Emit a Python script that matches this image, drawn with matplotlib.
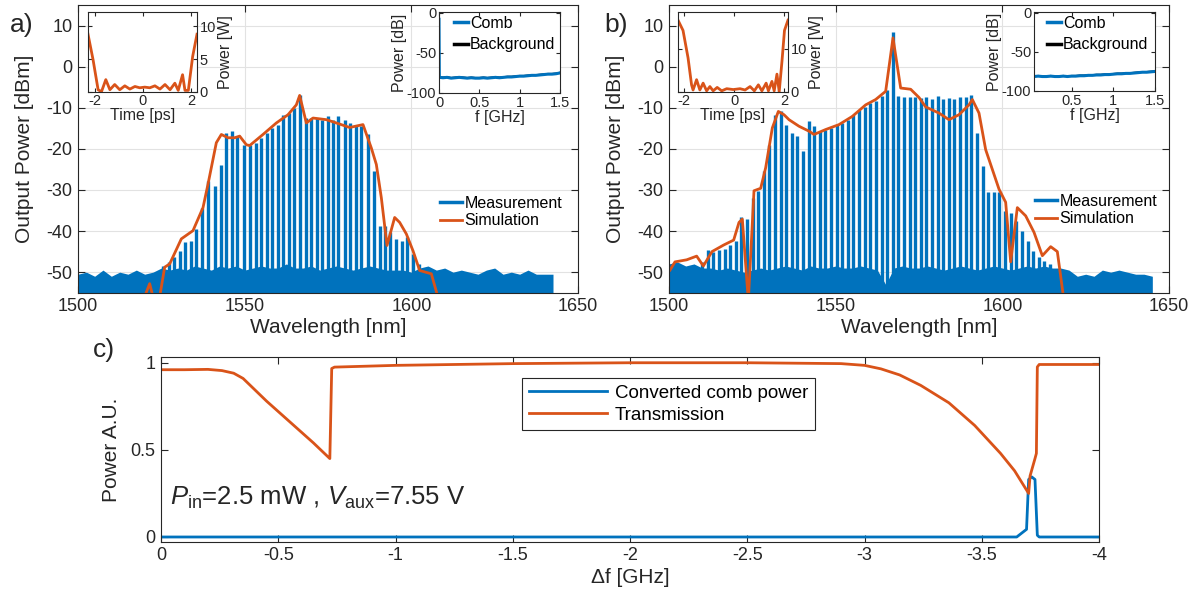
import matplotlib
matplotlib.use("Agg")
import matplotlib.pyplot as plt

plt.rcParams['font.family'] = ['Liberation Sans', 'DejaVu Sans']
plt.rcParams['axes.unicode_minus'] = False
plt.rcParams['mathtext.fontset'] = 'custom'
plt.rcParams['mathtext.rm'] = 'Liberation Sans'
plt.rcParams['mathtext.it'] = 'Liberation Sans:italic'

BLUE = '#0072BD'
ORANGE = '#D95319'
AX = '#262626'
GRID = '#e2e2e2'

# ---------------- panel a: measured comb lines (peak power, dBm) ----------------
comb_wl_a = [1525.5, 1527.2, 1528.7, 1530.5, 1532.2, 1533.8, 1535.5, 1537.3, 1539.0, 1541.0,
             1542.8, 1544.5, 1546.2, 1547.8, 1549.8, 1551.5, 1553.3, 1555.0, 1556.7, 1558.3,
             1560.0, 1561.5, 1563.3, 1564.8, 1566.5, 1568.3, 1570.0, 1571.7, 1573.3, 1575.0,
             1576.5, 1578.0, 1580.0, 1581.5, 1583.3, 1585.0, 1587.0, 1588.7, 1590.5, 1592.1,
             1593.7, 1595.5, 1597.2, 1598.8, 1600.5, 1602.3]
comb_pk_a = [-48.4, -47.5, -46.4, -44.8, -42.7, -42.3, -39.5, -34.3, -27.8, -29.0,
             -24.0, -16.1, -15.7, -16.9, -19.0, -19.0, -18.5, -17.3, -16.1, -14.9,
             -14.1, -11.7, -11.3, -10.1, -7.0, -12.5, -12.5, -12.5, -12.9, -12.1,
             -12.9, -12.1, -12.9, -13.7, -14.1, -14.5, -16.5, -25.4, -38.7, -38.7,
             -40.3, -41.9, -42.3, -41.5, -45.6, -48.0]

# noise floor of the measurement, read every 2.5 nm
floor_wl_a = [1500.0, 1502.5, 1505.0, 1507.5, 1510.0, 1512.5, 1515.0, 1517.5, 1520.0, 1522.5,
              1525.0, 1527.5, 1530.0, 1532.5, 1535.0, 1537.5, 1540.0, 1542.5, 1545.0, 1547.5,
              1550.0, 1552.5, 1555.0, 1557.5, 1560.0, 1562.5, 1565.0, 1567.5, 1570.0, 1572.5,
              1575.0, 1577.5, 1580.0, 1582.5, 1585.0, 1587.5, 1590.0, 1592.5, 1595.0, 1597.5,
              1600.0, 1602.5, 1605.0, 1607.5, 1610.0, 1612.5, 1615.0, 1617.5, 1620.0, 1622.5,
              1625.0, 1627.5, 1630.0, 1632.5, 1635.0, 1637.5, 1640.0, 1642.5]
floor_a = [-50.5, -50.0, -51.0, -49.5, -51.0, -50.0, -50.5, -49.5, -50.5, -50.0,
           -49.0, -49.5, -49.0, -49.5, -48.5, -49.0, -49.5, -48.5, -49.0, -48.5,
           -49.5, -49.0, -48.5, -49.0, -49.0, -48.0, -49.0, -49.0, -48.5, -49.5,
           -49.0, -48.5, -49.0, -49.5, -49.0, -48.5, -49.0, -49.5, -49.5, -49.5,
           -50.0, -49.0, -48.5, -49.5, -49.0, -50.0, -49.5, -50.0, -50.5, -49.5,
           -49.0, -50.5, -50.0, -50.5, -49.5, -50.5, -50.5, -50.5]

sim_wl_a = [1519.5, 1521.5, 1522.8, 1524.3, 1526.0, 1527.5, 1531.0, 1534.5, 1537.5, 1539.0,
            1541.5, 1543.0, 1545.0, 1547.0, 1548.5, 1550.5, 1551.5, 1555.5, 1559.5, 1563.0,
            1565.5, 1566.5, 1568.5, 1570.5, 1574.5, 1577.5, 1581.5, 1585.5, 1588.0, 1589.5,
            1591.0, 1592.7, 1595.0, 1596.5, 1598.5, 1600.5, 1602.5, 1606.0, 1608.3]
sim_a = [-57.0, -52.8, -57.0, -57.0, -48.8, -48.0, -41.9, -39.9, -34.3, -28.6,
         -18.5, -16.5, -17.3, -17.3, -16.9, -19.0, -19.2, -16.5, -13.7, -11.7,
         -9.3, -7.0, -13.7, -12.5, -12.9, -13.7, -14.8, -14.1, -19.8, -23.8,
         -31.9, -43.5, -36.7, -37.9, -40.7, -44.8, -49.6, -50.4, -57.0]

# ---------------- panel b ----------------
comb_wl_b = [1510.0, 1511.7, 1513.3, 1515.0, 1516.7, 1518.4, 1520.1, 1521.7, 1523.4, 1525.1,
             1526.8, 1528.5, 1530.1, 1531.8, 1533.5, 1535.2, 1536.9, 1538.5, 1540.2, 1541.9,
             1543.6, 1545.3, 1546.9, 1548.6, 1550.3, 1552.0, 1553.7, 1555.3, 1557.0, 1558.7,
             1560.4, 1562.1, 1563.8, 1565.4, 1567.1, 1568.8, 1570.5, 1572.2, 1573.9, 1575.5,
             1577.2, 1578.9, 1580.6, 1582.3, 1584.0, 1585.6, 1587.3, 1589.0, 1590.7, 1592.4,
             1594.1, 1595.8, 1597.4, 1599.1, 1600.8, 1602.5, 1604.2, 1605.9, 1607.6, 1609.2,
             1610.9, 1612.6, 1614.3]
comb_pk_b = [-47.5, -44.6, -45.0, -44.6, -44.3, -43.5, -42.5, -36.7, -37.1, -31.9,
             -30.2, -25.4, -19.0, -11.7, -10.9, -14.1, -16.1, -16.9, -20.6, -13.3,
             -14.5, -15.7, -15.3, -14.9, -14.1, -13.7, -12.9, -11.7, -10.5, -9.7,
             -8.9, -8.3, -7.1, -5.8, 8.4, -7.1, -7.4, -7.5, -7.3, -7.6,
             -7.4, -7.8, -7.2, -7.8, -7.6, -7.9, -7.3, -7.5, -7.0, -16.1,
             -24.2, -30.6, -30.6, -30.6, -35.1, -35.5, -37.5, -39.9, -42.3, -44.8,
             -46.4, -47.2, -48.0]

floor_wl_b = floor_wl_a + [1645.0]
floor_b = [-48.0, -47.5, -48.5, -48.0, -49.0, -49.0, -49.5, -49.0, -49.5, -50.0,
           -49.5, -49.0, -49.5, -49.0, -48.5, -49.0, -49.5, -48.5, -49.0, -49.0,
           -48.5, -49.0, -49.0, -48.5, -49.0, -49.5, -53.0, -49.0, -48.5, -49.0,
           -49.0, -48.5, -49.0, -49.5, -49.0, -48.5, -49.0, -49.5, -49.0, -48.5,
           -49.0, -49.5, -49.0, -48.5, -49.0, -48.5, -49.0, -49.0, -49.5, -51.0,
           -50.5, -51.0, -49.5, -50.0, -49.5, -50.0, -50.5, -50.5, -51.0]

sim_wl_b = [1500.3, 1501.8, 1505.3, 1508.3, 1510.3, 1512.9, 1516.4, 1519.4, 1521.0, 1522.0,
            1523.8, 1525.5, 1527.5, 1529.0, 1531.0, 1532.8, 1534.5, 1536.0, 1539.0, 1542.0,
            1543.5, 1547.0, 1551.0, 1555.0, 1559.0, 1562.0, 1565.0, 1567.2, 1569.5, 1572.5,
            1575.0, 1577.0, 1581.0, 1584.0, 1587.0, 1590.0, 1591.0, 1593.0, 1595.0, 1597.0,
            1599.0, 1601.0, 1602.5, 1604.5, 1607.0, 1609.5, 1612.0, 1614.5, 1616.5, 1618.5]
sim_b = [-49.5, -47.5, -47.0, -46.1, -48.5, -45.0, -43.4, -42.2, -37.9, -37.1,
         -57.0, -30.2, -29.6, -24.6, -14.9, -10.9, -11.7, -12.9, -14.5, -15.7,
         -16.5, -15.3, -14.1, -12.1, -9.3, -8.0, -6.0, 7.0, -5.2, -5.5,
         -7.5, -9.8, -11.3, -12.9, -11.7, -9.3, -8.0, -11.3, -20.2, -25.0,
         -29.8, -33.0, -47.5, -34.3, -36.3, -40.3, -46.0, -43.8, -45.0, -57.0]

# ---------------- insets: pulse in time ----------------
t_a = [-2.28, -2.07, -1.86, -1.72, -1.54, -1.37, -1.17, -0.96, -0.75, -0.54, -0.33, -0.13, 0.08,
       0.29, 0.5, 0.71, 0.92, 1.13, 1.33, 1.47, 1.65, 1.75, 1.89, 2.07, 2.25]
pw_a = [8.8, 4.9, 0.3, 0.0, 1.85, 0.3, 1.1, 0.3, 0.9, 0.4, 0.8, 0.6, 0.7,
        0.6, 0.9, 0.4, 1.1, 0.3, 1.3, 0.2, 2.6, 0.2, 0.2, 5.4, 8.8]
t_b = [-2.23, -2.03, -1.83, -1.69, -1.63, -1.49, -1.36, -1.23, -1.09, -0.96, -0.83, -0.67, -0.49,
       -0.29, -0.03, 0.24, 0.44, 0.64, 0.81, 0.97, 1.11, 1.28, 1.37, 1.51, 1.6, 1.71, 1.8, 1.91,
       2.01, 2.15]
pw_b = [16.7, 14.3, 7.9, 1.6, 0.4, 2.8, 0.4, 2.0, 0.2, 1.2, 0.2, 1.0, 0.2,
        0.7, 0.5, 0.7, 0.4, 1.2, 0.2, 1.6, 0.2, 2.0, 0.2, 2.4, 0.2, 4.1, 0.0, 7.1,
        14.3, 16.7]

# ---------------- insets: RF spectrum ----------------
rf_f = [0.0, 0.004, 0.05, 0.1, 0.15, 0.2, 0.25, 0.3, 0.35, 0.4, 0.45, 0.5, 0.55, 0.6, 0.65, 0.7,
        0.75, 0.8, 0.85, 0.9, 0.95, 1.0, 1.05, 1.1, 1.15, 1.2, 1.25, 1.3, 1.35, 1.4, 1.45, 1.5]
rf_comb_a = [-8, -80.5, -81, -80.5, -81.5, -81, -80.5, -81, -81.5, -81, -81.5, -81.5, -81, -81.5,
             -81, -80.5, -81, -80.5, -80, -80, -79.5, -79, -79, -78.5, -78, -78, -77.5, -77, -76.5,
             -76.5, -76, -75]
rf_bg_a = [-80, -80, -80.5, -80, -81, -80.5, -80, -80.5, -81, -80.5, -81, -81, -80.5, -81,
           -80.5, -80, -80.5, -80, -79.5, -79.5, -79, -78.5, -78.5, -78, -77.5, -77.5, -77, -76.5,
           -76, -76, -75.5, -74.5]
rf_comb_b = [-8, -81, -81.5, -81, -81.5, -81.5, -81, -81.5, -81.5, -81, -81.5, -81, -81, -80.5,
             -80.5, -80, -80, -79.5, -79.5, -79, -79, -78.5, -78, -78, -77.5, -77.5, -77, -76.5,
             -76, -76, -75.5, -75]
rf_bg_b = [-80.5, -80.5, -81, -80.5, -81, -81, -80.5, -81, -81, -80.5, -81, -80.5, -80.5, -80,
           -80, -79.5, -79.5, -79, -79, -78.5, -78.5, -78, -77.5, -77.5, -77, -77, -76.5, -76,
           -75.5, -75.5, -75, -74.5]

# ---------------- panel c ----------------
df_tr = [0, -0.1, -0.2, -0.26, -0.31, -0.35, -0.45, -0.55, -0.65, -0.72, -0.728, -0.74, -1.0, -1.5,
         -2.0, -2.5, -2.9, -3.0, -3.07, -3.15, -3.24, -3.36, -3.47, -3.58, -3.64, -3.70, -3.706,
         -3.727, -3.733, -3.737, -3.745, -4.0]
trans = [0.96, 0.96, 0.962, 0.955, 0.94, 0.91, 0.78, 0.66, 0.54, 0.45, 0.967, 0.975, 0.985, 0.995,
         1.0, 1.0, 0.995, 0.985, 0.965, 0.93, 0.87, 0.77, 0.64, 0.48, 0.38, 0.25, 0.35,
         0.45, 0.48, 0.976, 0.99, 0.99]
df_cb = [0, -3.60, -3.649, -3.691, -3.70, -3.713, -3.727, -3.737, -3.745, -4.0]
comb_pow = [0.0, 0.0, 0.0, 0.044, 0.33, 0.345, 0.33, 0.01, 0.0, 0.0]

W, H = 1200, 599
fig = plt.figure(figsize=(12, 5.99), dpi=100)


def rect(l, t, r, b):
    return [l / W, 1 - b / H, (r - l) / W, (b - t) / H]


def style(ax, fs, tl=5):
    for s in ax.spines.values():
        s.set_color(AX)
        s.set_linewidth(0.8)
    ax.tick_params(direction='in', top=True, right=True, colors=AX, labelsize=fs,
                   length=tl, width=0.8, pad=4)


def spectrum(pos, wl_floor, lv_floor, wl_comb, pk_comb, wl_sim, lv_sim, leg_xy):
    ax = fig.add_axes(rect(*pos))
    ax.fill_between(wl_floor, -60, lv_floor, color=BLUE, lw=0)
    ax.vlines(wl_comb, -60, pk_comb, color=BLUE, lw=2.4)
    s, = ax.plot(wl_sim, lv_sim, color=ORANGE, lw=2.0)
    ax.set_xlim(1500, 1650)
    ax.set_ylim(-55, 15)
    ax.set_xticks([1500, 1550, 1600, 1650])
    ax.set_yticks([-50, -40, -30, -20, -10, 0, 10])
    ax.grid(True, color=GRID, lw=0.8)
    ax.set_axisbelow(True)
    style(ax, 13)
    ax.set_xlabel('Wavelength [nm]', fontsize=15, color=AX, labelpad=2)
    ax.set_ylabel('Output Power [dBm]', fontsize=15, color=AX, labelpad=9)
    h1 = plt.Line2D([], [], color=BLUE, lw=2.5)
    ax.legend([h1, s], ['Measurement', 'Simulation'], loc='upper left',
              bbox_to_anchor=(leg_xy[0] / W, 1 - leg_xy[1] / H), bbox_transform=fig.transFigure,
              frameon=False, fontsize=11.5, handlelength=1.4, handletextpad=0.15,
              labelspacing=0.15, borderpad=0, borderaxespad=0)
    return ax


ax_a = spectrum((78, 5, 578, 292.7), floor_wl_a, floor_a, comb_wl_a, comb_pk_a,
                sim_wl_a, sim_a, (440, 196))
ax_b = spectrum((669, 5, 1169, 292.7), floor_wl_b, floor_b, comb_wl_b, comb_pk_b,
                sim_wl_b, sim_b, (1035, 194))


def pulse(pos, t, p, ymax, yt):
    ax = fig.add_axes(rect(*pos))
    ax.plot(t, p, color=ORANGE, lw=2.0)
    ax.set_xlim(t[0], t[-1])
    ax.set_ylim(0, ymax)
    ax.set_xticks([-2, 0, 2])
    ax.set_yticks(yt)
    style(ax, 10.5, tl=3)
    ax.tick_params(labelleft=False, labelright=True, pad=2)
    ax.yaxis.set_label_position('right')
    ax.set_xlabel('Time [ps]', fontsize=11.5, color=AX, labelpad=0)
    ax.set_ylabel('Power [W]', fontsize=11.5, color=AX, labelpad=1)
    return ax


pulse((88, 12, 197, 91.7), t_a, pw_a, 12.2, [0, 5, 10])
pulse((678, 12, 788, 91.7), t_b, pw_b, 18.6, [0, 10])


def rf(pos, comb, bg, xmin, xt, leg_xy):
    ax = fig.add_axes(rect(*pos))
    b, = ax.plot(rf_f, bg, color='k', lw=1.2)
    c, = ax.plot(rf_f, comb, color=BLUE, lw=2.2)
    ax.set_xlim(xmin, 1.5)
    ax.set_ylim(-100, 1)
    ax.set_xticks(xt)
    ax.set_xticklabels([('%g' % v) for v in xt])
    ax.set_yticks([-100, -50, 0])
    style(ax, 10.5, tl=3)
    ax.tick_params(pad=2)
    ax.set_xlabel('f [GHz]', fontsize=11.5, color=AX, labelpad=0)
    ax.set_ylabel('Power [dB]', fontsize=11.5, color=AX, labelpad=0)
    hc = plt.Line2D([], [], color=BLUE, lw=2.5)
    hb = plt.Line2D([], [], color='k', lw=2.5)
    ax.legend([hc, hb], ['Comb', 'Background'], loc='upper left',
              bbox_to_anchor=(leg_xy[0] / W, 1 - leg_xy[1] / H), bbox_transform=fig.transFigure,
              frameon=False, fontsize=11.5, handlelength=0.85, handletextpad=0.15,
              labelspacing=0.4, borderpad=0, borderaxespad=0)
    return ax


rf((439, 12, 560, 93), rf_comb_a, rf_bg_a, 0, [0, 0.5, 1, 1.5], (454, 16))
rf((1034, 12, 1155, 91), rf_comb_b, rf_bg_b, 0.05, [0.5, 1, 1.5], (1047, 16))

# panel c
ax_c = fig.add_axes(rect(161, 357, 1099, 541.7))
l1, = ax_c.plot(df_cb, comb_pow, color=BLUE, lw=2.0)
l2, = ax_c.plot(df_tr, trans, color=ORANGE, lw=2.0)
ax_c.set_xlim(0, -4)
ax_c.set_ylim(-0.027, 1.033)
xt = [0, -0.5, -1, -1.5, -2, -2.5, -3, -3.5, -4]
ax_c.set_xticks(xt)
ax_c.set_xticklabels([('%g' % v) for v in xt])
ax_c.set_yticks([0, 0.5, 1])
ax_c.set_yticklabels(['0', '0.5', '1'])
style(ax_c, 13)
ax_c.set_xlabel('\u0394f [GHz]', fontsize=15, color=AX, labelpad=3)
ax_c.set_ylabel('Power A.U.', fontsize=15, color=AX, labelpad=7)
leg = ax_c.legend([l1, l2], ['Converted comb power', 'Transmission'], loc='upper left',
                  bbox_to_anchor=(522 / W, 1 - 378 / H), bbox_transform=fig.transFigure,
                  fontsize=13.5, handlelength=4.2, handletextpad=0.4, labelspacing=0.25,
                  borderpad=0.35, borderaxespad=0, fancybox=False, framealpha=1)
leg.get_frame().set_edgecolor(AX)
leg.get_frame().set_linewidth(0.8)
fig.text(170 / W, 1 - 505 / H, r'$P_{\rm in}$=2.5 mW , $V_{\rm aux}$=7.55 V',
         fontsize=18.5, color=AX, va='baseline')

fig.text(10 / W, 1 - 25 / H, 'a)', fontsize=19, color=AX, va='center')
fig.text(604 / W, 1 - 25 / H, 'b)', fontsize=19, color=AX, va='center')
fig.text(93 / W, 1 - 350 / H, 'c)', fontsize=19, color=AX, va='center')

fig.savefig('out.png', dpi=100, facecolor='white')
